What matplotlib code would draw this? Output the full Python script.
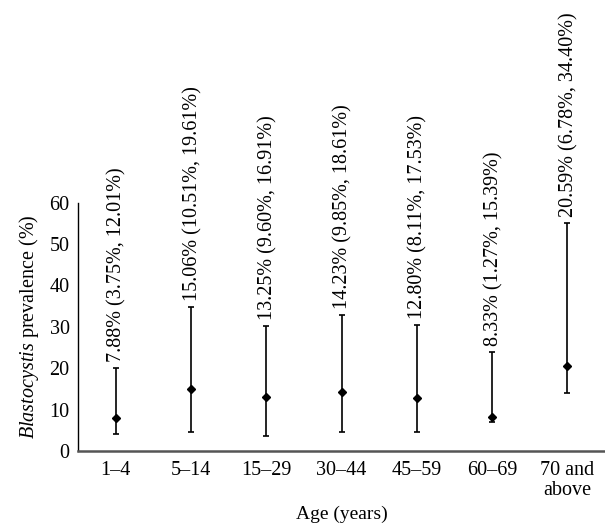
import matplotlib
matplotlib.use('Agg')
import matplotlib.pyplot as plt

plt.rcParams['font.family'] = ['Liberation Serif', 'DejaVu Serif']
plt.rcParams['mathtext.fontset'] = 'custom'
plt.rcParams['mathtext.it'] = 'Liberation Serif:italic'
plt.rcParams['mathtext.rm'] = 'Liberation Serif'

# Данні
age_groups = ['1–4', '5–14', '15–29', '30–44', '45–59', '60–69', '70 and\nabove']
prevalence = [7.9, 15.0, 13.1, 14.3, 12.8, 8.2, 20.6]
lower = [4.1, 4.7, 3.7, 4.5, 4.7, 7.1, 13.9]
upper = [20.0, 34.8, 30.3, 32.9, 30.5, 24.0, 55.1]
labels = ['7.88% (3.75%, 12.01%)', '15.06% (10.51%, 19.61%)', '13.25% (9.60%, 16.91%)',
          '14.23% (9.85%, 18.61%)', '12.80% (8.11%, 17.53%)', '8.33% (1.27%, 15.39%)',
          '20.59% (6.78%, 34.40%)']

fig = plt.figure(figsize=(6.05, 5.29), dpi=100)
ax = fig.add_axes([0.129, 0.1474, 0.871, 0.4696])

x = list(range(len(age_groups)))
err_lo = [p - l for p, l in zip(prevalence, lower)]
err_hi = [u - p for p, u in zip(prevalence, upper)]
ax.errorbar(x, prevalence, yerr=[err_lo, err_hi], fmt='D', color='black',
            markersize=4, elinewidth=1.2, capsize=2.5, capthick=1.2, clip_on=False)

for xi, u, t in zip(x, upper, labels):
    ax.text(xi + 0.02, u + 1.4, t, rotation=90, ha='center', va='bottom',
            fontsize=14.5, clip_on=False)

ax.set_xlim(-0.5, 6.5)
ax.set_ylim(0, 60)
ax.set_yticks(range(0, 61, 10))
ax.set_xticks(x)
ax.set_xticklabels(age_groups, fontsize=14.5, linespacing=1.1)
ax.tick_params(axis='y', labelsize=14.5, length=0, pad=6)
ax.tick_params(axis='x', length=0, pad=7)
ax.spines['top'].set_visible(False)
ax.spines['right'].set_visible(False)
ax.spines['left'].set_color('black')
ax.spines['left'].set_linewidth(1.0)
ax.spines['bottom'].set_color('#555555')
ax.spines['bottom'].set_linewidth(1.8)

ax.set_xlabel('Age (years)', fontsize=14, labelpad=4)
ax.set_ylabel(r'$\it{Blastocystis}$ prevalence (%)', fontsize=14.5, labelpad=6)

plt.savefig('out.png', dpi=100)
